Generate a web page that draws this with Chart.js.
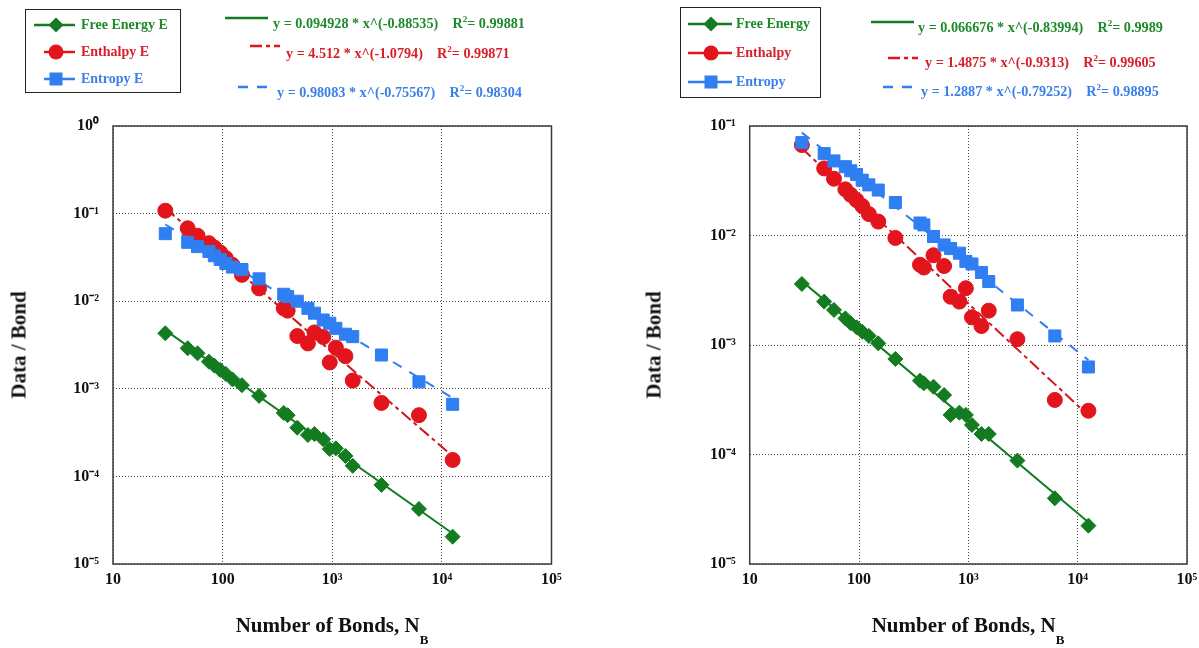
<!DOCTYPE html>
<html>
<head>
<meta charset="utf-8">
<script src="https://cdn.jsdelivr.net/npm/chart.js@4.4.1/dist/chart.umd.min.js"></script>
<style>
  html, body { margin: 0; padding: 0; background: #fff; }
  #page { position: relative; width: 1199px; height: 648px; overflow: hidden;
          font-family: "Liberation Serif", "Times New Roman", serif; font-weight: bold; }
  canvas { position: absolute; top: 0; }
  .abs { position: absolute; white-space: nowrap; }
  .ytitle { font-size: 21px; color: #111; transform: translate(-50%, -50%) rotate(-90deg); }
  .xtitle { font-size: 21px; color: #111; transform: translate(-50%, -50%); }
  .xtitle sub { font-size: 13px; vertical-align: -12px; }
  .box { border: 1.5px solid #222; box-sizing: border-box; }
  .leg { font-size: 14px; transform: translateY(-50%); }
  .eq { font-size: 14.2px; transform: translateY(-50%); }
  .eq sup { font-size: 9px; vertical-align: 6px; }
  svg.abs { overflow: visible; }
</style>
</head>
<body>
<div id="page">
  <canvas id="left" width="600" height="648" style="left:0"></canvas>
  <canvas id="right" width="599" height="648" style="left:600px"></canvas>

  <div class="abs ytitle" style="left:19px; top:345px">Data / Bond</div>
  <div class="abs ytitle" style="left:654px; top:345px">Data / Bond</div>
  <div class="abs xtitle" style="left:332px; top:630px">Number of Bonds, N<sub>B</sub></div>
  <div class="abs xtitle" style="left:968px; top:630px">Number of Bonds, N<sub>B</sub></div>

  <div class="abs box" style="left:25px; top:9px; width:156px; height:84px"></div>
  <div class="abs box" style="left:680px; top:7px; width:141px; height:91px"></div>
</div>

<script>
// x values (number of bonds) shared by every series
const bonds = [30, 48, 59, 75, 84, 95, 107, 123, 150, 215, 361, 392, 480, 600, 688, 828, 949, 1079, 1318, 1537, 2811, 6180, 12540];

// left panel (E)
const freeEnergyE = [4.3e-3, 2.9e-3, 2.54e-3, 2.04e-3, 1.84e-3, 1.64e-3, 1.48e-3, 1.28e-3, 1.10e-3, 8.3e-4, 5.3e-4, 5.0e-4, 3.6e-4, 2.97e-4, 3.05e-4, 2.65e-4, 2.05e-4, 2.09e-4, 1.71e-4, 1.32e-4, 8.0e-5, 4.25e-5, 2.05e-5];
const enthalpyE = [0.108, 0.068, 0.056, 0.046, 0.041, 0.036, 0.031, 0.026, 0.020, 0.014, 8.3e-3, 7.8e-3, 4.0e-3, 3.3e-3, 4.4e-3, 3.9e-3, 2.0e-3, 2.95e-3, 2.36e-3, 1.24e-3, 6.9e-4, 5.0e-4, 1.54e-4];
const entropyE = [0.059, 0.047, 0.042, 0.037, 0.033, 0.030, 0.027, 0.0245, 0.023, 0.018, 0.012, 0.0113, 0.0100, 8.3e-3, 7.3e-3, 6.1e-3, 5.6e-3, 4.9e-3, 4.2e-3, 3.94e-3, 2.43e-3, 1.2e-3, 6.65e-4];

// right panel
const freeEnergy = [3.61e-3, 2.49e-3, 2.09e-3, 1.75e-3, 1.58e-3, 1.45e-3, 1.32e-3, 1.21e-3, 1.035e-3, 7.45e-4, 4.72e-4, 4.47e-4, 4.16e-4, 3.49e-4, 2.30e-4, 2.41e-4, 2.30e-4, 1.86e-4, 1.54e-4, 1.54e-4, 8.8e-5, 3.98e-5, 2.24e-5];
const enthalpy = [0.067, 0.041, 0.033, 0.0264, 0.0235, 0.021, 0.0186, 0.0157, 0.0134, 9.5e-3, 5.4e-3, 5.1e-3, 6.6e-3, 5.26e-3, 2.76e-3, 2.49e-3, 3.3e-3, 1.79e-3, 1.49e-3, 2.06e-3, 1.13e-3, 3.15e-4, 2.51e-4];
const entropy = [0.0705, 0.056, 0.048, 0.0425, 0.039, 0.036, 0.032, 0.029, 0.026, 0.020, 0.0130, 0.0125, 9.8e-3, 8.2e-3, 7.6e-3, 6.9e-3, 5.8e-3, 5.5e-3, 4.6e-3, 3.8e-3, 2.32e-3, 1.21e-3, 6.3e-4];

// power-law fit lines, end points
const fitX = [30, 12540];
const fitFreeEnergyE = [4.67e-3, 2.23e-5];
const fitEnthalpyE = [0.115, 1.70e-4];
const fitEntropyE = [0.0751, 7.85e-4];
const fitFreeEnergy = [3.83e-3, 2.41e-5];
const fitEnthalpy = [0.0626, 2.27e-4];
const fitEntropy = [0.087, 7.28e-4];

const xTickValues = [10, 100, 1000, 1e4, 1e5];
const xTickLabels = ["10", "100", "10³", "10⁴", "10⁵"];
const yTickValues = [1, 0.1, 0.01, 1e-3, 1e-4, 1e-5];
const yTickLabels = ["10⁰", "10⁻¹", "10⁻²", "10⁻³", "10⁻⁴", "10⁻⁵"];

const leftSeriesNames = ["Free Energy E", "Enthalpy E", "Entropy E"];
const rightSeriesNames = ["Free Energy", "Enthalpy", "Entropy"];
const leftFitTexts = [
    ["y = 0.094928 * x^(-0.88535)", "0.99881"],
    ["y = 4.512 * x^(-1.0794)", "0.99871"],
    ["y = 0.98083 * x^(-0.75567)", "0.98304"]
];
const rightFitTexts = [
    ["y = 0.066676 * x^(-0.83994)", "0.9989"],
    ["y = 1.4875 * x^(-0.9313)", "0.99605"],
    ["y = 1.2887 * x^(-0.79252)", "0.98895"]
];

const GREEN = "#137B20", RED = "#E2141C", BLUE = "#2F7EF2";
const GREEN_TXT = "#1E8A2B", RED_TXT = "#D8202A", BLUE_TXT = "#3B80E8";
const RED_DASH = [12, 4, 4, 4];
const BLUE_DASH = [10, 9];
const FONT = "'Liberation Serif', 'Times New Roman', serif";

const pairs = (xs, ys) => xs.map((x, i) => ({ x, y: ys[i] }));

function labelFor(values, labels) {
    return v => {
        const i = values.findIndex(t => Math.abs(Math.log10(t) - Math.log10(v)) < 1e-6);
        return i < 0 ? "" : labels[i];
    };
}

const framePlugin = {
    id: "frame",
    beforeDatasetsDraw(chart) {
        const { ctx, chartArea: a } = chart;
        ctx.save();
        ctx.strokeStyle = "#3a3a3a";
        ctx.lineWidth = 1.5;
        ctx.strokeRect(a.left, a.top, a.right - a.left, a.bottom - a.top);
        ctx.restore();
    }
};

function markers(label, ys, color, style, radius, order) {
    return {
        type: "scatter", label, data: pairs(bonds, ys), order,
        pointStyle: style, pointRadius: radius, pointHoverRadius: radius,
        backgroundColor: color, borderColor: color, pointBorderWidth: 1, showLine: false
    };
}

function fitLine(ys, color, dash, order) {
    return {
        type: "line", data: pairs(fitX, ys), order,
        borderColor: color, borderWidth: 2, borderDash: dash, pointRadius: 0, fill: false
    };
}

function buildChart(id, series, fits, yMin, yMax, axisWidth, padRight) {
    const [free, enth, entr] = series;
    return new Chart(document.getElementById(id), {
        data: {
            datasets: [
                markers("Entropy", entr, BLUE, "rect", 8.5, 1),
                markers("Enthalpy", enth, RED, "circle", 7.5, 2),
                markers("Free Energy", free, GREEN, "rectRot", 7.5, 3),
                fitLine(fits[0], GREEN, [], 6),
                fitLine(fits[1], "#D0161E", RED_DASH, 5),
                fitLine(fits[2], BLUE, BLUE_DASH, 4)
            ]
        },
        options: {
            responsive: false,
            animation: false,
            layout: { padding: { top: 126, right: padRight, bottom: 0, left: 0 } },
            plugins: { legend: { display: false }, tooltip: { enabled: false } },
            scales: {
                x: {
                    type: "logarithmic", min: 10, max: 1e5,
                    afterBuildTicks: s => { s.ticks = xTickValues.map(value => ({ value })); },
                    afterFit: s => { s.height = 84; s.paddingLeft = 0; s.paddingRight = 0; },
                    ticks: {
                        callback: labelFor(xTickValues, xTickLabels), maxRotation: 0, autoSkip: false,
                        padding: 6, color: "#111", font: { family: FONT, size: 16, weight: "bold" }
                    },
                    grid: { color: "#444", lineWidth: 1, drawTicks: false },
                    border: { display: false, dash: [1, 2] }
                },
                y: {
                    type: "logarithmic", min: yMin, max: yMax,
                    afterBuildTicks: s => {
                        s.ticks = yTickValues.filter(v => v >= yMin && v <= yMax).map(value => ({ value }));
                    },
                    afterFit: s => { s.width = axisWidth; s.paddingTop = 0; s.paddingBottom = 0; },
                    ticks: {
                        callback: labelFor(yTickValues, yTickLabels), autoSkip: false,
                        padding: 14, color: "#111", font: { family: FONT, size: 16, weight: "bold" }
                    },
                    grid: { color: "#444", lineWidth: 1, drawTicks: false },
                    border: { display: false, dash: [1, 2] }
                }
            }
        },
        plugins: [framePlugin]
    });
}

buildChart("left", [freeEnergyE, enthalpyE, entropyE], [fitFreeEnergyE, fitEnthalpyE, fitEntropyE], 1e-5, 1, 113, 48.5);
buildChart("right", [freeEnergy, enthalpy, entropy], [fitFreeEnergy, fitEnthalpy, fitEntropy], 1e-5, 0.1, 149.7, 12);

// ---- legends (HTML overlay) ----
const page = document.getElementById("page");
const SVGNS = "http://www.w3.org/2000/svg";

function svgEl(tag, attrs) {
    const el = document.createElementNS(SVGNS, tag);
    for (const k in attrs) el.setAttribute(k, attrs[k]);
    return el;
}

function overlaySvg() {
    const svg = svgEl("svg", { width: 1199, height: 648, class: "abs" });
    svg.style.left = "0px";
    svg.style.top = "0px";
    page.appendChild(svg);
    return svg;
}

function text(x, y, cls, color, html) {
    const d = document.createElement("div");
    d.className = "abs " + cls;
    d.style.left = x + "px";
    d.style.top = y + "px";
    d.style.color = color;
    d.innerHTML = html;
    page.appendChild(d);
}

function marker(svg, shape, cx, cy, color) {
    if (shape === "diamond") {
        svg.appendChild(svgEl("polygon", { points: `${cx - 7.5},${cy} ${cx},${cy - 7.5} ${cx + 7.5},${cy} ${cx},${cy + 7.5}`, fill: color }));
    } else if (shape === "circle") {
        svg.appendChild(svgEl("circle", { cx, cy, r: 7.5, fill: color }));
    } else {
        svg.appendChild(svgEl("rect", { x: cx - 6.5, y: cy - 6.5, width: 13, height: 13, fill: color }));
    }
}

function line(svg, x0, x1, y, color, dash) {
    svg.appendChild(svgEl("line", {
        x1: x0, x2: x1, y1: y, y2: y, stroke: color, "stroke-width": 2.5,
        "stroke-dasharray": dash.length ? dash.join(" ") : "none"
    }));
}

const svg = overlaySvg();
const shapes = ["diamond", "circle", "square"];
const colors = [GREEN, RED, BLUE];
const txtColors = [GREEN_TXT, RED_TXT, BLUE_TXT];
const dashes = [[], RED_DASH, BLUE_DASH];

// left series legend
const leftRows = [25, 52, 79];
const leftLines = [[34, 75], [44, 75], [44, 75]];
leftSeriesNames.forEach((name, i) => {
    line(svg, leftLines[i][0], leftLines[i][1], leftRows[i], colors[i], []);
    marker(svg, shapes[i], 56, leftRows[i], colors[i]);
    text(81, leftRows[i], "leg", txtColors[i], name);
});
// right series legend
const rightRows = [24, 53, 82];
rightSeriesNames.forEach((name, i) => {
    line(svg, 688, 732, rightRows[i], colors[i], []);
    marker(svg, shapes[i], 711, rightRows[i], colors[i]);
    text(736, rightRows[i], "leg", txtColors[i], name);
});

// fit equations
const leftEq = [
    { lx: [225, 268], ly: 18, tx: 273, ty: 23 },
    { lx: [250, 280], ly: 46, tx: 286, ty: 53 },
    { lx: [238, 270], ly: 87, tx: 277, ty: 92 }
];
const rightEq = [
    { lx: [871, 914], ly: 22, tx: 918, ty: 27 },
    { lx: [888, 918], ly: 58, tx: 925, ty: 62 },
    { lx: [883, 916], ly: 87, tx: 921, ty: 91 }
];
leftFitTexts.forEach(([eq, r2], i) => {
    const p = leftEq[i];
    line(svg, p.lx[0], p.lx[1], p.ly, colors[i], dashes[i]);
    text(p.tx, p.ty, "eq", txtColors[i], `${eq}&nbsp;&nbsp;&nbsp;&nbsp;R<sup>2</sup>= ${r2}`);
});
rightFitTexts.forEach(([eq, r2], i) => {
    const p = rightEq[i];
    line(svg, p.lx[0], p.lx[1], p.ly, colors[i], dashes[i]);
    text(p.tx, p.ty, "eq", txtColors[i], `${eq}&nbsp;&nbsp;&nbsp;&nbsp;R<sup>2</sup>= ${r2}`);
});
</script>
</body>
</html>
